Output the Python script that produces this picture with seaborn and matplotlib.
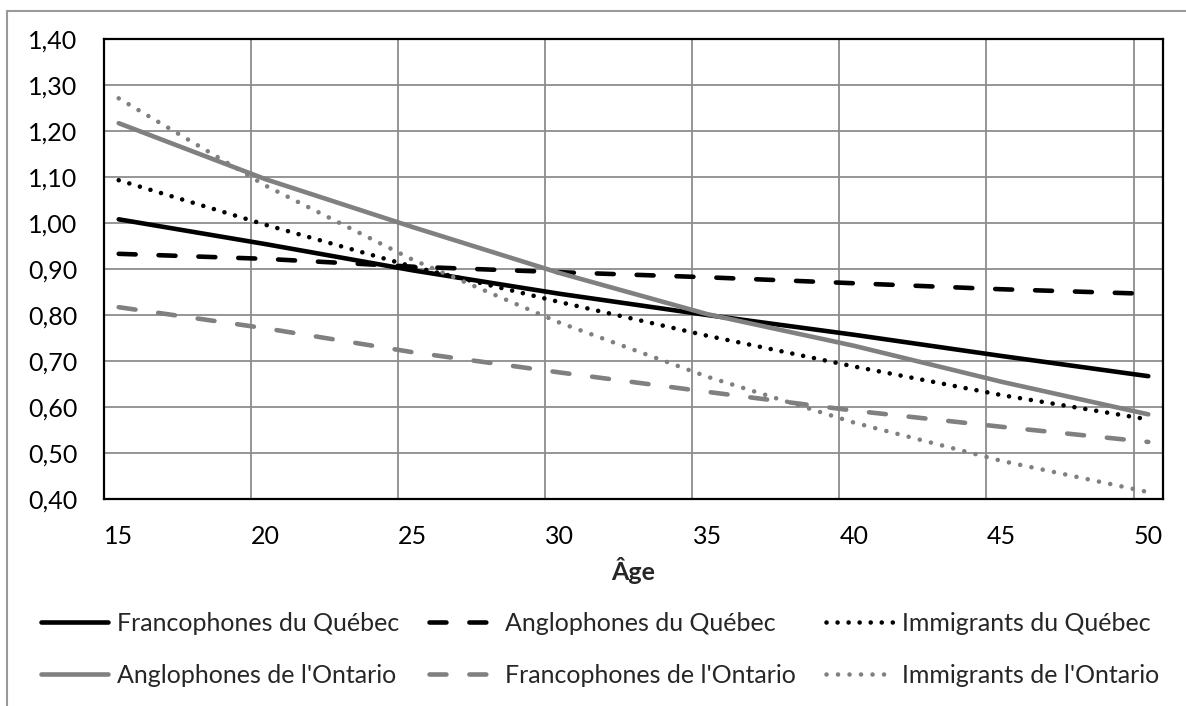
import matplotlib
matplotlib.use("Agg")
import matplotlib.pyplot as plt
from matplotlib.lines import Line2D
from matplotlib.ticker import FixedLocator, FuncFormatter
import seaborn as sns

# values every 5 years
ages = [15, 20, 25, 30, 35, 40, 45, 50]
francophones_qc = [1.008, 0.954, 0.897, 0.846, 0.800, 0.757, 0.711, 0.667]
anglophones_qc = [0.933, 0.922, 0.905, 0.893, 0.882, 0.869, 0.856, 0.846]
immigrants_qc = [1.093, 0.996, 0.905, 0.828, 0.755, 0.688, 0.626, 0.573]
anglophones_on = [1.217, 1.095, 0.991, 0.891, 0.802, 0.733, 0.655, 0.584]
francophones_on = [0.817, 0.771, 0.719, 0.675, 0.633, 0.592, 0.557, 0.524]
immigrants_on = [1.271, 1.081, 0.920, 0.783, 0.666, 0.566, 0.483, 0.415]

labels = ["Francophones du Québec", "Anglophones du Québec", "Immigrants du Québec",
          "Anglophones de l'Ontario", "Francophones de l'Ontario", "Immigrants de l'Ontario"]
series = [francophones_qc, anglophones_qc, immigrants_qc,
          anglophones_on, francophones_on, immigrants_on]
colors = ["black", "black", "black", "#808080", "#808080", "#808080"]
styles = ["-", (0, (3.7, 5.0)), (0, (0.01, 2.4)),
          "-", (0, (3.7, 5.0)), (0, (0.01, 2.5))]

sns.set_style("white")
plt.rcParams["font.family"] = ["Lato", "DejaVu Sans"]

fig = plt.figure(figsize=(11.86, 7.06), dpi=100)
fig.subplots_adjust(left=104 / 1186, right=1163 / 1186, top=1 - 39 / 706, bottom=1 - 499 / 706)
ax = fig.add_subplot(111)

for lab, vals, col, ls in zip(labels, series, colors, styles):
    sns.lineplot(x=ages, y=vals, ax=ax, color=col, linestyle=ls, lw=3.3,
                 dash_capstyle="round", solid_capstyle="round", label=lab)

ax.set_xlim(14.5, 50.5)
ax.set_ylim(0.40, 1.40)
ax.xaxis.set_major_locator(FixedLocator(ages))
ax.xaxis.set_minor_locator(FixedLocator([a - 0.5 for a in ages[1:]]))
ax.set_yticks([0.40 + 0.1 * i for i in range(11)])
ax.yaxis.set_major_formatter(FuncFormatter(lambda v, p: f"{v:.2f}".replace(".", ",")))
ax.tick_params(axis="both", which="both", length=0, labelsize=18, colors="black")
ax.tick_params(axis="x", pad=18.5)
ax.tick_params(axis="y", pad=19)

ax.grid(False)
ax.grid(True, axis="y", which="major", color="#8c8c8c", lw=1.3)
ax.grid(True, axis="x", which="minor", color="#8c8c8c", lw=1.3)
ax.set_axisbelow(True)
for sp in ax.spines.values():
    sp.set_color("black")
    sp.set_linewidth(1.6)

ax.set_xlabel("Âge", fontsize=18, fontweight="bold", labelpad=7)
ax.set_ylabel("")

handles, labs = ax.get_legend_handles_labels()
order = [0, 3, 1, 4, 2, 5]
ax.legend([handles[i] for i in order], [labs[i] for i in order], ncol=3,
          loc="center", bbox_to_anchor=(0.506, 0.080), bbox_transform=fig.transFigure,
          frameon=False, fontsize=18, handlelength=2.7, handletextpad=0.35,
          columnspacing=1.2, labelspacing=1.15, borderaxespad=0)

# outer chart border (top and left edges visible)
fig.add_artist(Line2D([7 / 1186, 7 / 1186], [0, 1 - 11 / 706], color="#9a9a9a", lw=1.5))
fig.add_artist(Line2D([7 / 1186, 1], [1 - 11 / 706, 1 - 11 / 706], color="#9a9a9a", lw=1.5))

fig.savefig("out.png", dpi=100)
